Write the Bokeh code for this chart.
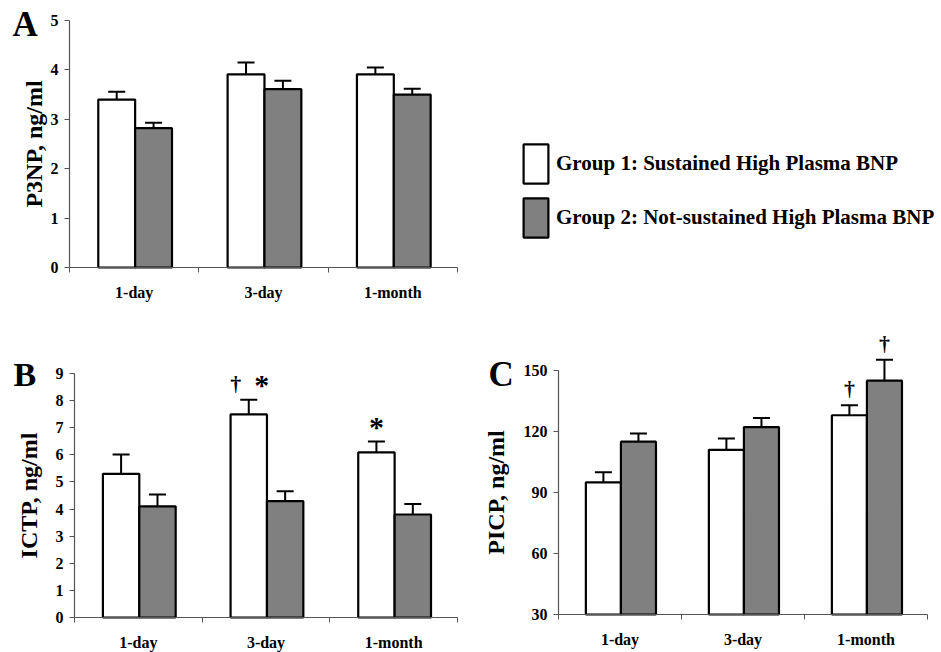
from bokeh.plotting import figure
from bokeh.models import (ColumnDataSource, Whisker, TeeHead, FixedTicker, Range1d,
                          Label, LabelSet, Legend, LegendItem)
from bokeh.layouts import column, row
from bokeh.embed import file_html
from bokeh.resources import INLINE

categories = ["1-day", "3-day", "1-month"]
group_names = ["Group 1: Sustained High Plasma BNP",
               "Group 2: Not-sustained High Plasma BNP"]

# Panel A: P3NP (ng/ml)
p3np_g1 = [3.40, 3.91, 3.91]
p3np_g1_err = [0.16, 0.24, 0.14]
p3np_g2 = [2.82, 3.61, 3.50]
p3np_g2_err = [0.11, 0.17, 0.12]
p3np_ticks = [0, 1, 2, 3, 4, 5]

# Panel B: ICTP (ng/ml)
ictp_g1 = [5.30, 7.49, 6.09]
ictp_g1_err = [0.71, 0.54, 0.40]
ictp_g2 = [4.10, 4.29, 3.80]
ictp_g2_err = [0.44, 0.37, 0.39]
ictp_ticks = [0, 1, 2, 3, 4, 5, 6, 7, 8, 9]
ictp_g1_marks = ["", "†*", "*"]
ictp_g2_marks = ["", "", ""]

# Panel C: PICP (ng/ml)
picp_g1 = [95.0, 111.0, 128.0]
picp_g1_err = [5.0, 5.6, 4.9]
picp_g2 = [115.0, 122.2, 145.0]
picp_g2_err = [4.0, 4.5, 10.3]
picp_ticks = [30, 60, 90, 120, 150]
picp_g1_marks = ["", "", "†"]
picp_g2_marks = ["", "", "†"]

FONT = "Liberation Serif"
GRAY = "#808080"
AXIS = "#555555"
OFF1, OFF2, BAR_W = 0.365, 0.65, 0.285
MARK_STYLE = {"†": ("22px", 9), "*": ("30px", 5)}   # font size, lift above cap


def axis_ranges(fig_w, fig_h, px_x0, px_x1, px_y0, px_y1, x0, x1, y0, y1):
    """Ranges so that the axes (drawn at fixed locations) sit at the given pixels."""
    ux = (x1 - x0) / (px_x1 - px_x0)
    uy = (y1 - y0) / (px_y0 - px_y1)
    return ((x0 - px_x0 * ux, x0 + (fig_w - px_x0) * ux),
            (y0 - (fig_h - px_y0) * uy, y0 + px_y0 * uy))


def make_panel(fig_w, fig_h, axis_px, y_ticks, g1, g1e, g2, g2e, m1, m2,
               ylabel, ylabel_x, letter, letter_xy, letter_size):
    n = len(categories)
    y0, y1 = y_ticks[0], y_ticks[-1]
    xr, yr = axis_ranges(fig_w, fig_h, *axis_px, 0, n, y0, y1)
    p = figure(width=fig_w, height=fig_h, output_backend="svg", toolbar_location=None,
               x_range=Range1d(*xr), y_range=Range1d(*yr), min_border=0)
    p.title.visible = False
    p.outline_line_color = None
    p.grid.visible = False
    p.background_fill_color = "white"
    p.border_fill_color = "white"

    renderers = []
    for vals, errs, marks, off, color in ((g1, g1e, m1, OFF1, "white"),
                                          (g2, g2e, m2, OFF2, GRAY)):
        xs = [i + off for i in range(n)]
        uppers = [v + e for v, e in zip(vals, errs)]
        src = ColumnDataSource(dict(x=xs, top=vals, upper=uppers))
        r = p.vbar(x="x", top="top", bottom=y0, width=BAR_W, source=src,
                   fill_color=color, line_color="black", line_width=2.2)
        renderers.append(r)
        w = Whisker(base="x", lower="top", upper="upper", source=src,
                    dimension="height", line_color="black", line_width=2,
                    lower_head=None,
                    upper_head=TeeHead(size=17, line_color="black", line_width=2))
        p.add_layout(w)
        mx, my, mt, mo, mf, ml = [], [], [], [], [], []
        for x, up, m in zip(xs, uppers, marks):
            k = len(m)
            for j, ch in enumerate(m):
                mx.append(x)
                my.append(up)
                mt.append(ch)
                mo.append((j - (k - 1) / 2) * 26)
                mf.append(MARK_STYLE[ch][0])
                ml.append(MARK_STYLE[ch][1])
        if mt:
            ms = ColumnDataSource(dict(x=mx, y=my, text=mt, xo=mo, fs=mf, yo=ml))
            p.add_layout(LabelSet(x="x", y="y", text="text", x_offset="xo", y_offset="yo",
                                  source=ms, text_font=FONT, text_font_style="bold",
                                  text_font_size="fs", text_align="center",
                                  text_baseline="alphabetic", text_color="black"))

    xa = p.xaxis[0]
    xa.fixed_location = y0
    xa.bounds = (0, n)
    xa.ticker = FixedTicker(ticks=[i + 0.5 for i in range(n)],
                            minor_ticks=list(range(n + 1)))
    xa.major_label_overrides = {i + 0.5: c for i, c in enumerate(categories)}
    xa.major_tick_line_color = None
    xa.major_tick_out = 0
    xa.major_tick_in = 0
    xa.minor_tick_out = 5
    xa.minor_tick_in = 0
    xa.minor_tick_line_color = AXIS
    xa.axis_line_color = AXIS
    xa.axis_line_width = 1.2
    xa.major_label_standoff = 11
    xa.major_label_text_font = FONT
    xa.major_label_text_font_style = "bold"
    xa.major_label_text_font_size = "16px"
    xa.major_label_text_color = "black"

    ya = p.yaxis[0]
    ya.fixed_location = 0
    ya.bounds = (y0, y1)
    ya.ticker = FixedTicker(ticks=y_ticks, minor_ticks=[])
    ya.major_tick_out = 5
    ya.major_tick_in = 0
    ya.major_tick_line_color = AXIS
    ya.minor_tick_line_color = None
    ya.axis_line_color = AXIS
    ya.axis_line_width = 1.2
    ya.major_label_standoff = 6
    ya.major_label_text_font = FONT
    ya.major_label_text_font_style = "bold"
    ya.major_label_text_font_size = "16px"
    ya.major_label_text_color = "black"

    p.add_layout(Label(x=ylabel_x, y=(y0 + y1) / 2, x_units="screen", y_units="data",
                       text=ylabel, angle=90, angle_units="deg",
                       text_font=FONT, text_font_style="bold", text_font_size="24px",
                       text_color="black", text_align="center", text_baseline="middle"))
    p.add_layout(Label(x=letter_xy[0], y=letter_xy[1], x_units="screen", y_units="screen",
                       text=letter, text_font=FONT, text_font_style="bold",
                       text_font_size=letter_size, text_color="black",
                       text_align="left", text_baseline="alphabetic"))
    return p, renderers


TOP_H, BOT_H = 320, 332

pA, rA = make_panel(941, TOP_H, (69, 457, 267, 20), p3np_ticks,
                    p3np_g1, p3np_g1_err, p3np_g2, p3np_g2_err,
                    ["", "", ""], ["", "", ""],
                    "P3NP, ng/ml", 33, "A", (12, TOP_H - 24), "35px")

legend = Legend(items=[LegendItem(label=group_names[0], renderers=[rA[0]]),
                       LegendItem(label=group_names[1], renderers=[rA[1]])],
                location=(520, TOP_H - 242), glyph_width=31, glyph_height=49, spacing=5,
                label_standoff=5, padding=0, margin=0, border_line_color=None,
                background_fill_alpha=0, label_text_font=FONT,
                label_text_font_style="bold", label_text_font_size="21px",
                label_text_color="black")
pA.add_layout(legend)

pB, _ = make_panel(470, BOT_H, (74, 457, 617 - TOP_H, 373 - TOP_H), ictp_ticks,
                   ictp_g1, ictp_g1_err, ictp_g2, ictp_g2_err,
                   ictp_g1_marks, ictp_g2_marks,
                   "ICTP, ng/ml", 28, "B", (13, BOT_H - (374 - TOP_H)), "34px")

pC, _ = make_panel(471, BOT_H, (88, 457, 614 - TOP_H, 370 - TOP_H), picp_ticks,
                   picp_g1, picp_g1_err, picp_g2, picp_g2_err,
                   picp_g1_marks, picp_g2_marks,
                   "PICP, ng/ml", 25, "C", (18, BOT_H - (374 - TOP_H)), "35px")

layout = column(pA, row(pB, pC))
open("out.html", "w").write(file_html(layout, INLINE))
